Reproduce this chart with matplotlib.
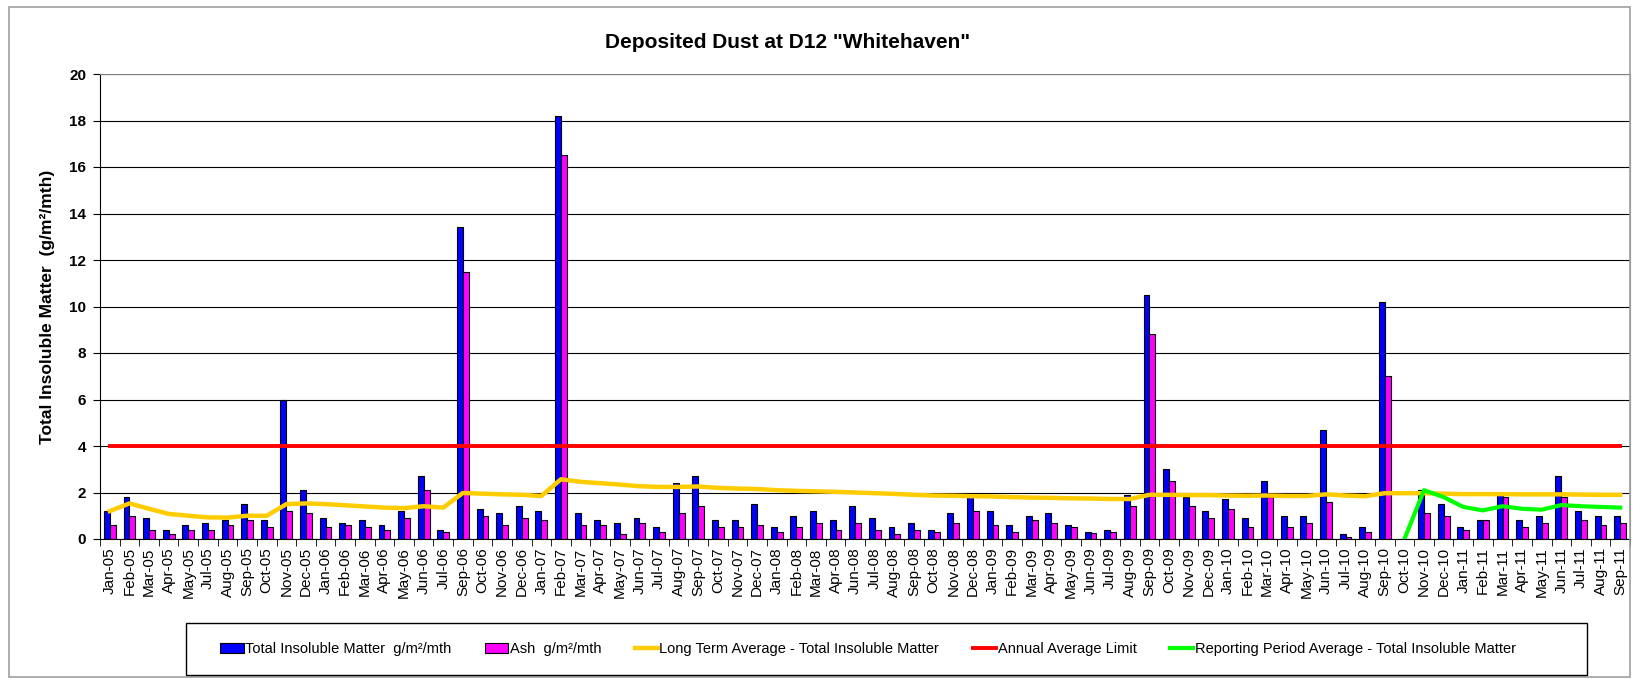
import matplotlib.pyplot as plt
import matplotlib.patches as patches
import numpy as np

plt.rcParams['font.family'] = ['Liberation Sans', 'DejaVu Sans']

months = ['Jan-05', 'Feb-05', 'Mar-05', 'Apr-05', 'May-05', 'Jul-05', 'Aug-05', 'Sep-05', 'Oct-05', 'Nov-05', 'Dec-05',
          'Jan-06', 'Feb-06', 'Mar-06', 'Apr-06', 'May-06', 'Jun-06', 'Jul-06', 'Sep-06', 'Oct-06', 'Nov-06', 'Dec-06',
          'Jan-07', 'Feb-07', 'Mar-07', 'Apr-07', 'May-07', 'Jun-07', 'Jul-07', 'Aug-07', 'Sep-07', 'Oct-07', 'Nov-07', 'Dec-07',
          'Jan-08', 'Feb-08', 'Mar-08', 'Apr-08', 'Jun-08', 'Jul-08', 'Aug-08', 'Sep-08', 'Oct-08', 'Nov-08', 'Dec-08',
          'Jan-09', 'Feb-09', 'Mar-09', 'Apr-09', 'May-09', 'Jun-09', 'Jul-09', 'Aug-09', 'Sep-09', 'Oct-09', 'Nov-09', 'Dec-09',
          'Jan-10', 'Feb-10', 'Mar-10', 'Apr-10', 'May-10', 'Jun-10', 'Jul-10', 'Aug-10', 'Sep-10', 'Oct-10', 'Nov-10', 'Dec-10',
          'Jan-11', 'Feb-11', 'Mar-11', 'Apr-11', 'May-11', 'Jun-11', 'Jul-11', 'Aug-11', 'Sep-11']

total = [1.2, 1.8, 0.9, 0.4, 0.6, 0.7, 0.8, 1.5, 0.8, 6.0, 2.1,
         0.9, 0.7, 0.8, 0.6, 1.2, 2.7, 0.4, 13.4, 1.3, 1.1, 1.4,
         1.2, 18.2, 1.1, 0.8, 0.7, 0.9, 0.5, 2.4, 2.7, 0.8, 0.8, 1.5,
         0.5, 1.0, 1.2, 0.8, 1.4, 0.9, 0.5, 0.7, 0.4, 1.1, 1.8,
         1.2, 0.6, 1.0, 1.1, 0.6, 0.3, 0.4, 1.9, 10.5, 3.0, 1.8, 1.2,
         1.7, 0.9, 2.5, 1.0, 1.0, 4.7, 0.2, 0.5, 10.2, np.nan, 2.1, 1.5,
         0.5, 0.8, 1.9, 0.8, 1.0, 2.7, 1.2, 1.0, 1.0]

ash = [0.6, 1.0, 0.4, 0.2, 0.4, 0.4, 0.6, 0.8, 0.5, 1.2, 1.1,
       0.5, 0.6, 0.5, 0.4, 0.9, 2.1, 0.3, 11.5, 1.0, 0.6, 0.9,
       0.8, 16.5, 0.6, 0.6, 0.2, 0.7, 0.3, 1.1, 1.4, 0.5, 0.5, 0.6,
       0.3, 0.5, 0.7, 0.4, 0.7, 0.4, 0.2, 0.4, 0.3, 0.7, 1.2,
       0.6, 0.3, 0.8, 0.7, 0.5, 0.25, 0.3, 1.4, 8.8, 2.5, 1.4, 0.9,
       1.3, 0.5, 1.8, 0.5, 0.7, 1.6, 0.1, 0.3, 7.0, np.nan, 1.1, 1.0,
       0.4, 0.8, 1.8, 0.5, 0.7, 1.8, 0.8, 0.6, 0.7]

long_term = [1.2, 1.53, 1.3, 1.08, 1.0, 0.93, 0.92, 1.0, 1.0, 1.5, 1.53,
             1.5, 1.45, 1.4, 1.35, 1.33, 1.41, 1.35, 1.98, 1.95, 1.92, 1.9,
             1.85, 2.57, 2.46, 2.4, 2.34, 2.27, 2.24, 2.24, 2.26, 2.2, 2.17, 2.15,
             2.1, 2.07, 2.05, 2.03, 2.0, 1.97, 1.94, 1.9, 1.87, 1.86, 1.84,
             1.83, 1.8, 1.78, 1.77, 1.75, 1.74, 1.72, 1.72, 1.9, 1.9, 1.89, 1.89,
             1.87, 1.86, 1.87, 1.85, 1.85, 1.92, 1.87, 1.84, 1.97, 1.97, 1.97, 1.95,
             1.93, 1.93, 1.93, 1.92, 1.92, 1.92, 1.91, 1.9, 1.9]

limit = [4.0] * len(months)

reporting = [np.nan] * 66 + [0.0, 2.1, 1.8, 1.38, 1.23, 1.41, 1.3, 1.26, 1.46, 1.41, 1.38, 1.35]

W, H = 1635, 679
fig = plt.figure(figsize=(W / 100, H / 100), dpi=100)
# outer chart border and legend box
fig.patches.append(patches.Rectangle((9 / W, 1 - 677 / H), 1621 / W, 670 / H, transform=fig.transFigure,
                                     fill=False, edgecolor='#a0a0a0', linewidth=1.2))
fig.patches.append(patches.Rectangle((186 / W, 1 - 675 / H), 1401 / W, 52 / H, transform=fig.transFigure,
                                     fill=False, edgecolor='black', linewidth=1.0, zorder=5))

ax = fig.add_axes([100 / W, 1 - 539 / H, 1530 / W, 465 / H])
x = np.arange(len(months))
bw = 0.3

ax.bar(x - bw / 2, total, bw, color='#0000ff', edgecolor='black', linewidth=0.8,
       label='Total Insoluble Matter  g/m\u00b2/mth', zorder=3)
ax.bar(x + bw / 2, ash, bw, color='#ff00ff', edgecolor='black', linewidth=0.8,
       label='Ash  g/m\u00b2/mth', zorder=3)
ax.plot(x, long_term, color='#ffcc00', linewidth=3.2, label='Long Term Average - Total Insoluble Matter', zorder=4)
ax.plot(x, limit, color='#ff0000', linewidth=2.8, label='Annual Average Limit', zorder=4)
ax.plot(x, reporting, color='#00ff00', linewidth=3, label='Reporting Period Average - Total Insoluble Matter', zorder=4)

ax.set_xlim(-0.5, len(months) - 0.5)
ax.set_ylim(0, 20)
ax.set_yticks(np.arange(0, 21, 2))
ax.set_yticklabels([str(v) for v in range(0, 21, 2)], fontsize=11, fontweight='bold')
ax.yaxis.grid(True, color='black', linewidth=0.8, zorder=0)
ax.set_axisbelow(True)

ax.set_xticks(x)
ax.set_xticklabels(months, rotation=90, fontsize=11)
ax.tick_params(axis='x', which='major', length=0, pad=6)
ax.set_xticks(np.arange(-0.5, len(months), 1), minor=True)
ax.tick_params(axis='x', which='minor', length=5, direction='out', color='black')
ax.tick_params(axis='y', length=5, direction='out', pad=5)

for s in ['top', 'right']:
    ax.spines[s].set_color('#808080')
for s in ['left', 'bottom']:
    ax.spines[s].set_color('black')

ax.set_ylabel('Total Insoluble Matter  (g/m\u00b2/mth)', fontsize=12.5, fontweight='bold', labelpad=10)
fig.text(788 / W, 1 - 42 / H, 'Deposited Dust at D12 "Whitehaven"', fontsize=15, fontweight='bold',
         ha='center', va='center')

handles, labels = ax.get_legend_handles_labels()
order = [3, 4, 0, 1, 2]
leg = fig.legend([handles[i] for i in order], [labels[i] for i in order], loc='center',
                 bbox_to_anchor=(868 / W, 1 - 649 / H), ncol=5, fontsize=10.5, frameon=False,
                 columnspacing=2.3, handlelength=1.6, handletextpad=0.1)

fig.savefig('out.png', dpi=100)
